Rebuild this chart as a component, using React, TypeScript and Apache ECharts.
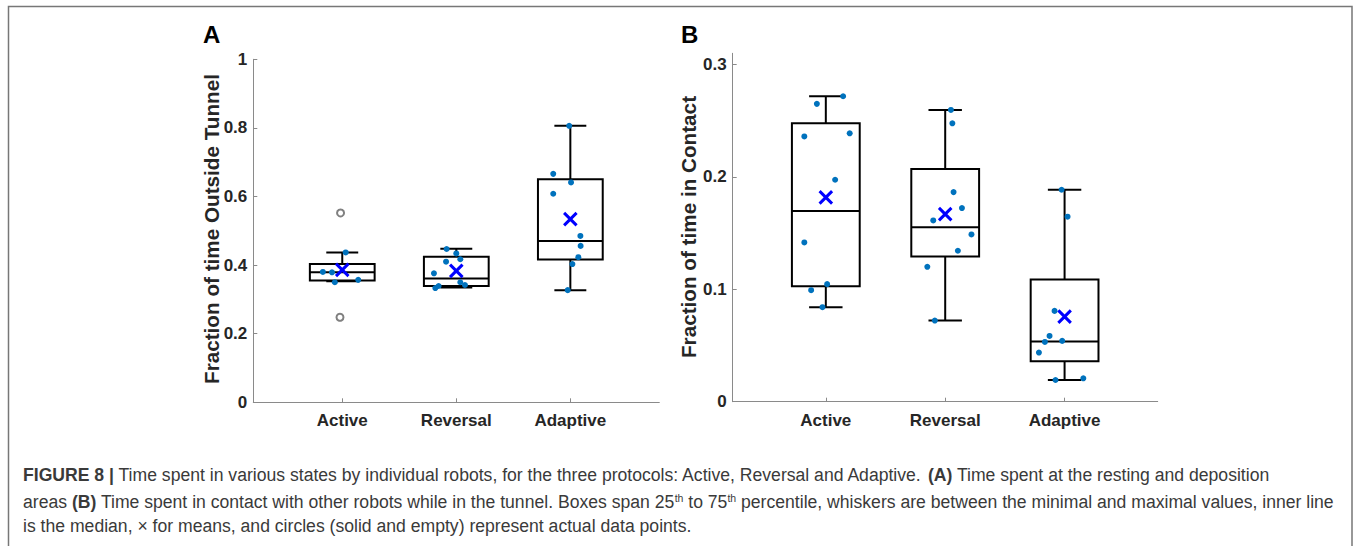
import React, { useEffect, useRef } from "react";
import * as echarts from "echarts";

// ---------- data ----------
const categories = ["Active", "Reversal", "Adaptive"];

// Panel A: fraction of time outside tunnel
// box stats: [min whisker, Q1, median, Q3, max whisker]
const boxA = [
  [0.353, 0.355, 0.379, 0.403, 0.437],
  [0.335, 0.339, 0.361, 0.424, 0.448],
  [0.327, 0.416, 0.47, 0.65, 0.806],
];
const meanA = [0.386, 0.383, 0.534];
const pointsActiveA = [0.437, 0.38, 0.379, 0.35, 0.357];
const jitterActiveA = [0.03, -0.17, -0.09, -0.065, 0.14];
const outliersActiveA = [0.552, 0.248];
const outlierJitterActiveA = [-0.015, -0.02];
const pointsReversalA = [0.447, 0.434, 0.417, 0.41, 0.376, 0.35, 0.342, 0.333, 0.339];
const jitterReversalA = [-0.085, 0, 0.035, -0.09, -0.196, 0.035, 0.076, -0.184, -0.155];
const pointsAdaptiveA = [0.806, 0.666, 0.641, 0.608, 0.485, 0.456, 0.423, 0.403, 0.327];
const jitterAdaptiveA = [-0.01, -0.15, 0.006, -0.15, 0.088, 0.09, 0.07, 0.018, -0.023];

// Panel B: fraction of time in contact
const boxB = [
  [0.0841, 0.1028, 0.1696, 0.2477, 0.2718],
  [0.0722, 0.1292, 0.1553, 0.207, 0.2596],
  [0.0193, 0.0359, 0.0535, 0.1087, 0.1886],
];
const meanB = [0.1818, 0.1669, 0.0757];
const pointsActiveB = [0.2718, 0.265, 0.236, 0.2388, 0.1975, 0.1417, 0.1046, 0.0992, 0.0841];
const jitterActiveB = [0.145, -0.075, -0.18, 0.2, 0.078, -0.18, 0.011, -0.123, -0.028];
const pointsReversalB = [0.2596, 0.2477, 0.1865, 0.1723, 0.1613, 0.1488, 0.1343, 0.12, 0.0722];
const jitterReversalB = [0.048, 0.06, 0.07, 0.14, -0.1, 0.22, 0.106, -0.15, -0.087];
const pointsAdaptiveB = [0.1886, 0.1646, 0.0808, 0.0585, 0.0532, 0.0541, 0.0437, 0.0208, 0.0193];
const jitterAdaptiveB = [-0.025, 0.025, -0.084, -0.126, -0.165, -0.02, -0.215, 0.157, -0.076];

const yTicksA = [0, 0.2, 0.4, 0.6, 0.8, 1];
const yTicksB = [0, 0.1, 0.2, 0.3];

const yTitleA = "Fraction of time Outside Tunnel";
const yTitleB = "Fraction of time in Contact";

const captionLines = [
  "{b|FIGURE 8 |} Time spent in various states by individual robots, for the three protocols: Active, Reversal and Adaptive. {b|(A)} Time spent at the resting and deposition",
  "areas {b|(B)} Time spent in contact with other robots while in the tunnel. Boxes span 25{s|th} to 75{s|th} percentile, whiskers are between the minimal and maximal values, inner line",
  "is the median, \u00d7 for means, and circles (solid and empty) represent actual data points.",
];

// ---------- helpers ----------
const BOX_HW = 0.284;
const CAP_HW = 0.14;
const FONT = "'Liberation Sans', Arial, Helvetica, sans-serif";
const AXIS_GRAY = "#8a8a8a";
const TEXT_DARK = "#262626";
const CAPTION_SIZE = 17.6;

function jittered(cat: number, vals: number[], jit: number[]) {
  return vals.map((v, i) => [cat + jit[i], v]);
}

function boxRenderItem(params: any, api: any) {
  const x = api.value(0);
  const mn = api.value(1);
  const q1 = api.value(2);
  const md = api.value(3);
  const q3 = api.value(4);
  const mx = api.value(5);
  const tl = api.coord([x - BOX_HW, q3]);
  const br = api.coord([x + BOX_HW, q1]);
  const line = (a: number[], b: number[]) => ({
    type: "line",
    shape: { x1: a[0], y1: a[1], x2: b[0], y2: b[1] },
    style: { stroke: "#000", lineWidth: 2 },
  });
  return {
    type: "group",
    children: [
      line(api.coord([x, q3]), api.coord([x, mx])),
      line(api.coord([x, q1]), api.coord([x, mn])),
      line(api.coord([x - CAP_HW, mx]), api.coord([x + CAP_HW, mx])),
      line(api.coord([x - CAP_HW, mn]), api.coord([x + CAP_HW, mn])),
      {
        type: "rect",
        shape: { x: tl[0], y: tl[1], width: br[0] - tl[0], height: br[1] - tl[1] },
        style: { stroke: "#000", lineWidth: 2, fill: "none" },
      },
      line(api.coord([x - BOX_HW, md]), api.coord([x + BOX_HW, md])),
    ],
  };
}

function xAxisDef(gridIndex: number) {
  return {
    type: "value",
    gridIndex,
    min: 0.22,
    max: 3.78,
    splitLine: { show: false },
    axisLine: { show: true, onZero: false, lineStyle: { color: AXIS_GRAY, width: 1 } },
    axisTick: {
      show: true,
      inside: true,
      length: 4,
      customValues: [1, 2, 3],
      lineStyle: { color: AXIS_GRAY },
    },
    axisLabel: {
      customValues: [1, 2, 3],
      formatter: (v: number) => categories[Math.round(v) - 1] || "",
      fontFamily: FONT,
      fontSize: 17,
      fontWeight: "bold",
      color: TEXT_DARK,
      margin: 10,
    },
  };
}

function yAxisDef(gridIndex: number, max: number, ticks: number[]) {
  return {
    type: "value",
    gridIndex,
    min: 0,
    max,
    splitLine: { show: false },
    axisLine: { show: true, lineStyle: { color: AXIS_GRAY, width: 1 } },
    axisTick: {
      show: true,
      inside: true,
      length: 4,
      customValues: ticks,
      lineStyle: { color: AXIS_GRAY },
    },
    axisLabel: {
      customValues: ticks,
      formatter: (v: number) => String(Number(v.toFixed(2))),
      fontFamily: FONT,
      fontSize: 17,
      fontWeight: "bold",
      color: TEXT_DARK,
      margin: 6,
    },
  };
}

const X_SYMBOL = "path://M0,0L10,10M10,0L0,10";

function panelSeries(
  idx: number,
  box: number[][],
  mean: number[],
  pts: number[][],
  outliers: number[][]
) {
  const s: any[] = [
    {
      type: "custom",
      xAxisIndex: idx,
      yAxisIndex: idx,
      renderItem: boxRenderItem,
      encode: { x: 0, y: [1, 2, 3, 4, 5] },
      data: box.map((b, i) => [i + 1, ...b]),
      clip: false,
      z: 2,
    },
    {
      type: "scatter",
      xAxisIndex: idx,
      yAxisIndex: idx,
      data: pts,
      symbol: "circle",
      symbolSize: 6,
      itemStyle: { color: "#0072BD", opacity: 1 },
      z: 3,
    },
    {
      type: "scatter",
      xAxisIndex: idx,
      yAxisIndex: idx,
      data: mean.map((m, i) => [i + 1, m]),
      symbol: X_SYMBOL,
      symbolSize: 12.5,
      itemStyle: { color: "none", borderColor: "#0000FF", borderWidth: 3, opacity: 1 },
      z: 4,
    },
  ];
  if (outliers.length) {
    s.push({
      type: "scatter",
      xAxisIndex: idx,
      yAxisIndex: idx,
      data: outliers,
      symbol: "emptyCircle",
      symbolSize: 7,
      itemStyle: { color: "#808080", borderColor: "#808080", borderWidth: 1, opacity: 1 },
      z: 3,
    });
  }
  return s;
}

export default function App() {
  const ref = useRef<HTMLDivElement>(null);

  useEffect(() => {
    if (!ref.current) return;
    const chart = echarts.init(ref.current, undefined, { renderer: "svg" });

    const ptsA = [
      ...jittered(1, pointsActiveA, jitterActiveA),
      ...jittered(2, pointsReversalA, jitterReversalA),
      ...jittered(3, pointsAdaptiveA, jitterAdaptiveA),
    ];
    const outA = jittered(1, outliersActiveA, outlierJitterActiveA);
    const ptsB = [
      ...jittered(1, pointsActiveB, jitterActiveB),
      ...jittered(2, pointsReversalB, jitterReversalB),
      ...jittered(3, pointsAdaptiveB, jitterAdaptiveB),
    ];

    const captionStyle = (text: string, y: number) => ({
      type: "text",
      left: 23,
      top: y,
      style: {
        text,
        fontFamily: FONT,
        fontSize: CAPTION_SIZE,
        fill: "#3a3a3a",
        rich: {
          b: { fontFamily: FONT, fontSize: CAPTION_SIZE, fontWeight: "bold", color: "#1a1a1a" },
          s: {
            fontFamily: FONT,
            fontSize: 10.5,
            color: "#3a3a3a",
            padding: [0, 0, 9, 0],
          },
        },
      },
    });

    const letter = (t: string, x: number) => ({
      type: "text",
      x,
      y: 22,
      style: {
        text: t,
        fontFamily: FONT,
        fontSize: 24,
        fontWeight: "bold",
        fill: "#000",
        verticalAlign: "top",
      },
    });

    const yTitle = (t: string, x: number, y: number) => ({
      type: "text",
      x,
      y,
      rotation: Math.PI / 2,
      style: {
        text: t,
        fontFamily: FONT,
        fontSize: 20.7,
        fontWeight: "bold",
        fill: TEXT_DARK,
        align: "center",
        verticalAlign: "middle",
      },
    });

    chart.setOption({
      animation: false,
      backgroundColor: "#ffffff",
      grid: [
        { left: 253.3, top: 59.3, width: 406, height: 343 },
        { left: 732.7, top: 53.3, width: 425, height: 348.4 },
      ],
      xAxis: [xAxisDef(0), xAxisDef(1)],
      yAxis: [yAxisDef(0, 1, yTicksA), yAxisDef(1, 0.31, yTicksB)],
      series: [
        ...panelSeries(0, boxA, meanA, ptsA, outA),
        ...panelSeries(1, boxB, meanB, ptsB, []),
      ],
      graphic: [
        {
          type: "rect",
          shape: { x: 8.5, y: 6.5, width: 1343.5, height: 600 },
          style: { fill: "none", stroke: "#777", lineWidth: 1.5 },
          silent: true,
          z: -1,
        },
        letter("A", 203),
        letter("B", 681),
        yTitle(yTitleA, 211, 229),
        yTitle(yTitleB, 688.5, 227),
        captionStyle(captionLines[0], 466),
        captionStyle(captionLines[1], 492),
        captionStyle(captionLines[2], 517),
      ],
    });

    return () => chart.dispose();
  }, []);

  return (
    <div
      ref={ref}
      style={{ position: "fixed", left: 0, top: 0, width: 1354, height: 546, background: "#fff" }}
    />
  );
}
